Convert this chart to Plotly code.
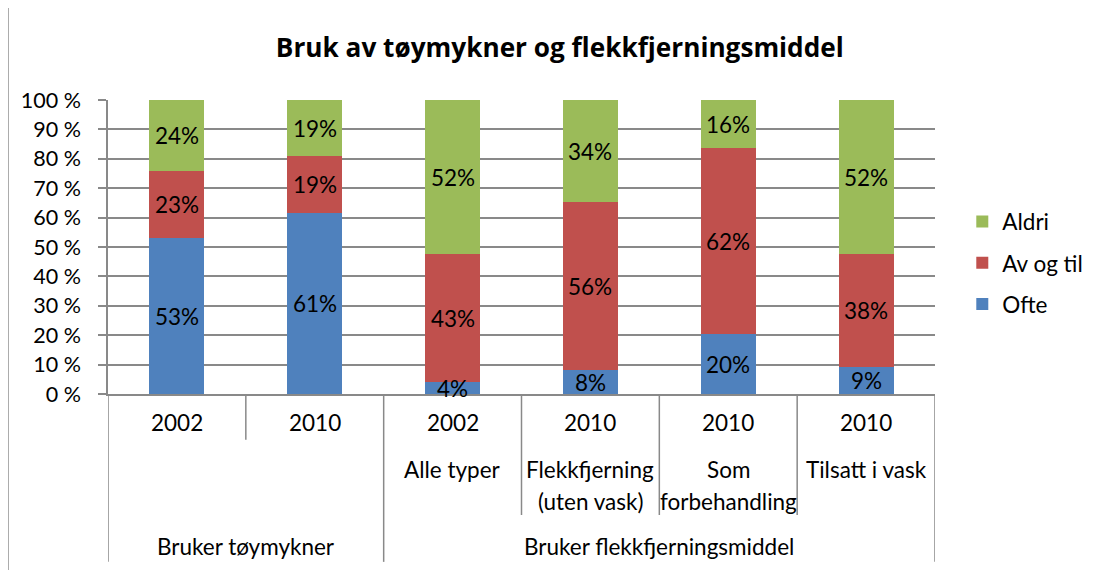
import plotly.graph_objects as go

# ---- data ----
years = ["2002", "2010", "2002", "2010", "2010", "2010"]
sub_labels = [[], [], ["Alle typer"], ["Flekkfjerning", "(uten vask)"], ["Som", "forbehandling"], ["Tilsatt i vask"]]
groups = ["Bruker tøymykner", "Bruker flekkfjerningsmiddel"]
group_spans = [(0, 1), (2, 5)]
ofte = [53, 61, 4, 8, 20, 9]
av_og_til = [23, 19, 43, 56, 62, 38]
aldri = [24, 19, 52, 34, 16, 52]
y_ticks = list(range(0, 101, 10))
y_tick_labels = [f"{t} %" for t in y_ticks]
series = [("Ofte", ofte, "#4F81BD"), ("Av og til", av_og_til, "#C0504D"), ("Aldri", aldri, "#9BBB59")]
legend_rank = {"Aldri": 1, "Av og til": 2, "Ofte": 3}

FONT = "Lato"
FS = 22.5
GRID = "#898989"
xs = list(range(len(years)))
n = len(years)

fig = go.Figure()
for name, vals, col in series:
    fig.add_trace(go.Bar(
        x=xs, y=vals, name=name, marker=dict(color=col, line=dict(width=0)),
        legendrank=legend_rank[name], legendgroup=name, hoverinfo="name+y",
    ))

annotations = []
# data labels centred in segments (percent-normalised stacking)
totals = [sum(s[1][i] for s in series) for i in range(n)]
cum = [0.0] * n
for name, vals, col in series:
    for i, v in enumerate(vals):
        centre = (cum[i] + v / 2) / totals[i] * 100
        cum[i] += v
        annotations.append(dict(x=i, y=centre, xref="x", yref="y", text=f"{v}%", showarrow=False,
                                font=dict(family=FONT, size=FS, color="black"), yanchor="middle"))

shapes = []
# outer border
shapes.append(dict(type="rect", xref="paper", yref="paper", x0=-0.121, x1=1.3, y0=-0.7, y1=1.316,
                   line=dict(color="#868686", width=1.5), fillcolor="rgba(0,0,0,0)", layer="below"))
# category separators
for b in range(n + 1):
    xb = b - 0.5
    if b == 0 or b == n or any(xb == s[0] - 0.5 for s in group_spans):
        y1 = -0.571
    elif len(sub_labels[b]) > 0 or len(sub_labels[b - 1]) > 0:
        y1 = -0.4116
    else:
        y1 = -0.156
    shapes.append(dict(type="line", xref="x", yref="paper", x0=xb, x1=xb, y0=0, y1=y1,
                       line=dict(color=GRID, width=1.5)))

for i, yr in enumerate(years):
    annotations.append(dict(x=i, y=-0.0986, xref="x", yref="paper", text=yr, showarrow=False,
                            font=dict(family=FONT, size=FS, color="black"), yanchor="middle"))
    for j, ln in enumerate(sub_labels[i]):
        annotations.append(dict(x=i, y=-0.2585 - j * 0.1088, xref="x", yref="paper", text=ln, showarrow=False,
                                font=dict(family=FONT, size=FS, color="black"), yanchor="middle"))
for g, (a, b) in zip(groups, group_spans):
    annotations.append(dict(x=(a + b) / 2, y=-0.520, xref="x", yref="paper", text=g, showarrow=False,
                            font=dict(family=FONT, size=FS, color="black"), yanchor="middle"))

fig.update_layout(
    width=1097, height=562,
    margin=dict(l=100, r=170, t=92, b=176),
    paper_bgcolor="white", plot_bgcolor="white",
    barmode="stack", barnorm="percent", bargap=0.6,
    title=dict(text="<b>Bruk av tøymykner og flekkfjerningsmiddel</b>", x=0.503, xanchor="center",
               y=0.9288, yanchor="middle", font=dict(family="Open Sans", size=26.2, color="black")),
    xaxis=dict(range=[-0.5, n - 0.5], showticklabels=False, showgrid=False, zeroline=False,
               showline=True, linecolor=GRID, linewidth=1.5, ticks=""),
    yaxis=dict(range=[0, 100], tickvals=y_ticks, ticktext=y_tick_labels,
               showgrid=True, gridcolor=GRID, gridwidth=1.5, zeroline=False,
               showline=True, linecolor=GRID, linewidth=1.5, ticks="outside", ticklen=8,
               tickcolor=GRID, tickwidth=1.5, ticklabelstandoff=13,
               tickfont=dict(family=FONT, size=21.5, color="black")),
    legend=dict(x=1.033, y=0.446, xanchor="left", yanchor="middle", traceorder="grouped",
                tracegroupgap=9, font=dict(family=FONT, size=22.5, color="black"),
                bgcolor="rgba(0,0,0,0)"),
    shapes=shapes, annotations=annotations,
)

fig.write_html("out.html")
